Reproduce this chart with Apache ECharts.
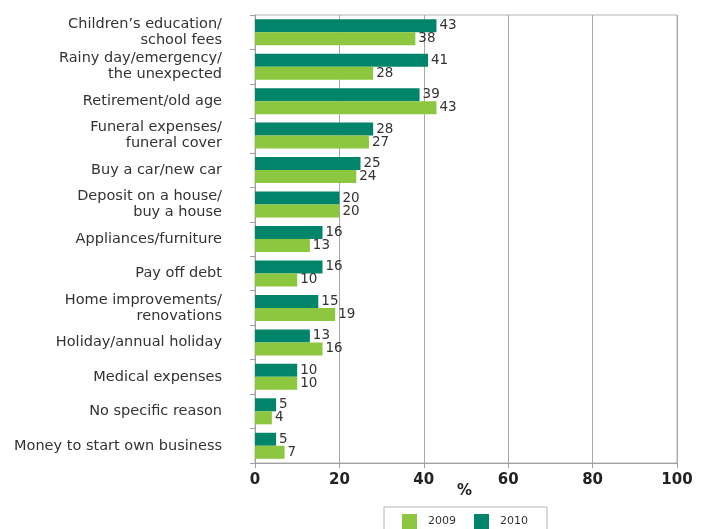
<!DOCTYPE html>
<html>
<head>
<meta charset="utf-8">
<script src="https://cdn.jsdelivr.net/npm/echarts@6/dist/echarts.min.js"></script>
<style>
  html, body { margin: 0; padding: 0; background: #fff; }
  #chart { width: 707px; height: 529px; }
</style>
</head>
<body>
<div id="chart"></div>
<script>
// Reasons for saving, share of respondents (%)
const categories = [
  "Children\u2019s education/\nschool fees",
  "Rainy day/emergency/\nthe unexpected",
  "Retirement/old age",
  "Funeral expenses/\nfuneral cover",
  "Buy a car/new car",
  "Deposit on a house/\nbuy a house",
  "Appliances/furniture",
  "Pay off debt",
  "Home improvements/\nrenovations",
  "Holiday/annual holiday",
  "Medical expenses",
  "No specific reason",
  "Money to start own business"
];
const values2010 = [43, 41, 39, 28, 25, 20, 16, 16, 15, 13, 10, 5, 5];
const values2009 = [38, 28, 43, 27, 24, 20, 13, 10, 19, 16, 10, 4, 7];
const xTicks = [0, 20, 40, 60, 80, 100];
const xAxisTitle = "%";

const FONT = "DejaVu Sans";
const TEAL = "#00856b";
const GREEN = "#8dc63f";

const chart = echarts.init(document.getElementById("chart"));

const valueLabel = {
  show: true,
  position: "right",
  distance: 3,
  color: "#333",
  fontFamily: FONT,
  fontSize: 13.5
};

chart.setOption({
  animation: false,
  textStyle: { fontFamily: FONT },
  grid: {
    left: 255, right: 30, top: 15, bottom: 66,
    show: true, borderColor: "#b4b4b4", borderWidth: 1
  },
  // unit caption under the value axis
  graphic: [{
    type: "text",
    left: 457, top: 484,
    style: { text: xAxisTitle, fontFamily: FONT, fontSize: 15, fontWeight: "bold", fill: "#222" }
  }],
  legend: {
    left: 384, top: 507,
    data: ["2009", "2010"],
    icon: "rect",
    itemWidth: 15, itemHeight: 15, itemGap: 18,
    padding: [7, 19, 8, 18],
    borderColor: "#b4b4b4", borderWidth: 1,
    textStyle: { fontFamily: FONT, fontSize: 11, color: "#333", padding: [0, 0, 0, 6] }
  },
  xAxis: {
    type: "value",
    min: xTicks[0], max: xTicks[xTicks.length - 1], interval: 20,
    axisLine: { show: true, lineStyle: { color: "#a0a0a0" } },
    axisTick: { show: true, length: 5, lineStyle: { color: "#a0a0a0" } },
    axisLabel: { fontFamily: FONT, fontSize: 15, fontWeight: "bold", color: "#222", margin: 10 },
    splitLine: { show: true, lineStyle: { color: "#a8a8a8" } }
  },
  yAxis: {
    type: "category",
    data: categories,
    inverse: true,
    axisLine: { show: true, lineStyle: { color: "#a0a0a0" } },
    axisTick: { show: true, length: 5, lineStyle: { color: "#a0a0a0" } },
    axisLabel: { fontFamily: FONT, fontSize: 14.5, color: "#333", margin: 33, lineHeight: 16, align: "right" }
  },
  series: [
    {
      name: "2010", type: "bar", data: values2010,
      barWidth: 13, barGap: "0%",
      itemStyle: { color: TEAL },
      label: valueLabel
    },
    {
      name: "2009", type: "bar", data: values2009,
      barWidth: 13, barGap: "0%",
      itemStyle: { color: GREEN },
      label: valueLabel
    }
  ]
});
</script>
</body>
</html>
